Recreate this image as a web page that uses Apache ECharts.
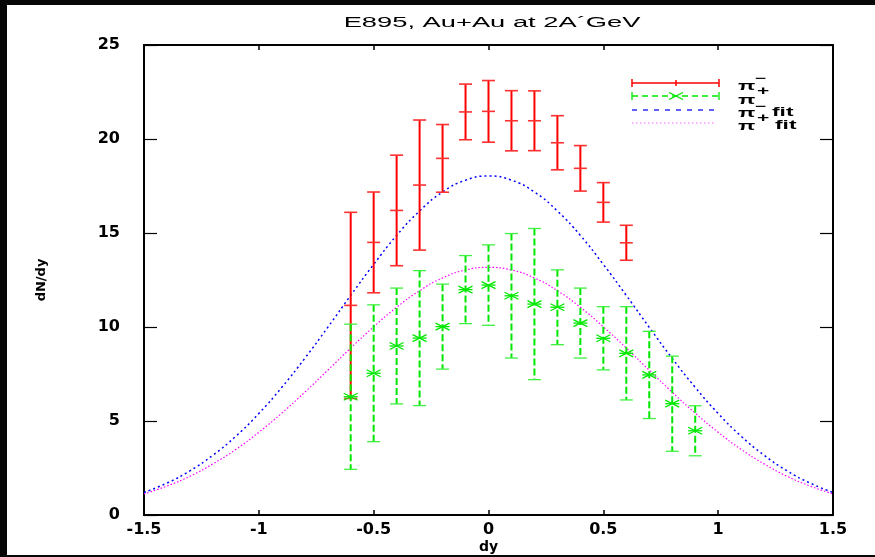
<!DOCTYPE html>
<html><head><meta charset="utf-8">
<script src="https://cdn.jsdelivr.net/npm/echarts@6/dist/echarts.min.js"></script>
<style>html,body{margin:0;padding:0;background:#fff}#c{width:875px;height:557px}</style>
</head><body><div id="c"></div>
<script>
// ---- data ----
const rapidityMinus = [-0.6, -0.5, -0.4, -0.3, -0.2, -0.1, 0, 0.1, 0.2, 0.3, 0.4, 0.5, 0.6];
const piMinus      = [11.15, 14.5, 16.2, 17.55, 18.97, 21.44, 21.47, 20.97, 20.97, 19.8, 18.44, 16.63, 14.48];
const piMinusErr   = [4.95, 2.68, 2.94, 3.46, 1.8, 1.48, 1.64, 1.6, 1.59, 1.44, 1.21, 1.05, 0.93];

const rapidityPlus = [-0.6, -0.5, -0.4, -0.3, -0.2, -0.1, 0, 0.1, 0.2, 0.3, 0.4, 0.5, 0.6, 0.7, 0.8, 0.9];
const piPlus       = [6.29, 7.54, 8.99, 9.41, 10.02, 11.99, 12.23, 11.66, 11.22, 11.05, 10.21, 9.4, 8.6, 7.45, 5.92, 4.48];
const piPlusErr    = [3.86, 3.64, 3.08, 3.59, 2.26, 1.81, 2.14, 3.31, 4.02, 1.99, 1.86, 1.68, 2.48, 2.32, 2.53, 1.33];

const fitRapidity = [-1.5, -1.4, -1.3, -1.2, -1.1, -1.0, -0.9, -0.8, -0.7, -0.6, -0.5, -0.4, -0.3, -0.2, -0.1, 0,
                     0.1, 0.2, 0.3, 0.4, 0.5, 0.6, 0.7, 0.8, 0.9, 1.0, 1.1, 1.2, 1.3, 1.4, 1.5];
const piMinusFit = [1.20, 1.70, 2.35, 3.18, 4.19, 5.40, 6.79, 8.33, 9.98, 11.68, 13.33, 14.87, 16.17, 17.18, 17.81, 18.03,
                    17.81, 17.18, 16.17, 14.87, 13.33, 11.68, 9.98, 8.33, 6.79, 5.40, 4.19, 3.18, 2.35, 1.70, 1.20];
const piPlusFit  = [1.12, 1.54, 2.06, 2.72, 3.49, 4.40, 5.42, 6.53, 7.70, 8.88, 10.01, 11.05, 11.93, 12.61, 13.03, 13.17,
                    13.03, 12.61, 11.93, 11.05, 10.01, 8.88, 7.70, 6.53, 5.42, 4.40, 3.49, 2.72, 2.06, 1.54, 1.12];

const xTicks = { min: -1.5, max: 1.5, interval: 0.5 };
const yTicks = { min: 0, max: 25, interval: 5 };

const titleText = 'E895, Au+Au at 2A\u00b4GeV';
const xName = 'dy';
const yName = 'dN/dy';

// ---- styles ----
const RED = '#ff0000', GREEN = '#00e800', BLUE = '#0000ff', MAGENTA = '#ff00ff';
const tickFont = { fontFamily: 'DejaVu Sans', fontWeight: 'bold', fontSize: 16, color: '#000' };

function errBarItem(kind) {
  return function (params, api) {
    const x = api.value(0), y = api.value(1), e = api.value(2);
    const c = api.coord([x, y]);
    const t = api.coord([x, y + e]);
    const b = api.coord([x, y - e]);
    const hw = 6.5;
    const kids = [];
    if (kind === 'red') {
      const cap = { stroke: '#ff3030', lineWidth: 1.6 };
      kids.push({ type: 'line', shape: { x1: c[0], y1: t[1], x2: c[0], y2: b[1] }, style: { stroke: RED, lineWidth: 2 } });
      kids.push({ type: 'line', shape: { x1: c[0] - hw, y1: t[1], x2: c[0] + hw, y2: t[1] }, style: cap });
      kids.push({ type: 'line', shape: { x1: c[0] - hw, y1: b[1], x2: c[0] + hw, y2: b[1] }, style: cap });
      kids.push({ type: 'line', shape: { x1: c[0] - hw, y1: c[1], x2: c[0] + hw, y2: c[1] }, style: cap });
    } else {
      const cap = { stroke: '#40f040', lineWidth: 1.3 };
      kids.push({ type: 'line', shape: { x1: c[0], y1: t[1], x2: c[0], y2: b[1] }, style: { stroke: GREEN, lineWidth: 2, lineDash: [7, 3] } });
      kids.push({ type: 'line', shape: { x1: c[0] - hw, y1: t[1], x2: c[0] + hw, y2: t[1] }, style: cap });
      kids.push({ type: 'line', shape: { x1: c[0] - hw, y1: b[1], x2: c[0] + hw, y2: b[1] }, style: cap });
      const mw = 7, mh = 3.5, ms = { stroke: GREEN, lineWidth: 1.3 };
      kids.push({ type: 'line', shape: { x1: c[0] - mw, y1: c[1] - mh, x2: c[0] + mw, y2: c[1] + mh }, style: ms });
      kids.push({ type: 'line', shape: { x1: c[0] - mw, y1: c[1] + mh, x2: c[0] + mw, y2: c[1] - mh }, style: ms });
      kids.push({ type: 'line', shape: { x1: c[0] - mw, y1: c[1], x2: c[0] + mw, y2: c[1] }, style: ms });
    }
    return { type: 'group', children: kids };
  };
}

// ---- legend (drawn as graphics) ----
const LX1 = 632, LX2 = 719, LM = 676;
function txt(x, y, s, size, weight, align) {
  return { type: 'text', x: x, y: y, scaleX: 1.75, z: 100,
    style: { text: s, fontFamily: 'Liberation Sans', fontWeight: weight || 'bold', fontSize: size,
             fill: '#000', align: align || 'left', verticalAlign: 'middle' } };
}
function ln(x1, y1, x2, y2, style) {
  return { type: 'line', z: 100, shape: { x1, y1, x2, y2 }, style };
}
const legendGraphics = [
  ln(LX1, 83, LX2, 83, { stroke: RED, lineWidth: 1.5 }),
  ln(LX1, 79, LX1, 87, { stroke: RED, lineWidth: 1.5 }),
  ln(LX2, 79, LX2, 87, { stroke: RED, lineWidth: 1.5 }),
  ln(LM, 80, LM, 86, { stroke: RED, lineWidth: 1.5 }),
  ln(LX1, 96, LX2, 96, { stroke: GREEN, lineWidth: 1.3, lineDash: [6, 4] }),
  ln(LX1, 92, LX1, 100, { stroke: GREEN, lineWidth: 1.3 }),
  ln(LX2, 92, LX2, 100, { stroke: GREEN, lineWidth: 1.3 }),
  ln(LM - 7, 92.5, LM + 7, 99.5, { stroke: GREEN, lineWidth: 1.3 }),
  ln(LM - 7, 99.5, LM + 7, 92.5, { stroke: GREEN, lineWidth: 1.3 }),
  ln(LX1, 110, 714, 110, { stroke: '#6060ff', lineWidth: 2, lineDash: [5, 6] }),
  ln(LX1, 123, 714, 123, { stroke: '#ff60ff', lineWidth: 1.2, lineDash: [1.5, 2.5] }),
  txt(738, 86, '\u03c0', 13), txt(755, 79, '\u2212', 11),
  txt(738, 100, '\u03c0', 13), txt(757, 92, '+', 12),
  txt(738, 113, '\u03c0', 13), txt(755, 107, '\u2212', 11), txt(772, 112, 'fit', 13),
  txt(738, 126, '\u03c0', 13), txt(757, 119, '+', 12), txt(775, 125, 'fit', 13)
];

const frameGraphics = [
  { type: 'rect', z: 200, shape: { x: 0, y: 0, width: 7, height: 557 }, style: { fill: '#070707' } },
  { type: 'rect', z: 200, shape: { x: 0, y: 0, width: 875, height: 5 }, style: { fill: '#070707' } },
  { type: 'rect', z: 200, shape: { x: 0, y: 555, width: 875, height: 2 }, style: { fill: '#070707' } }
];

const titleGraphic = { type: 'text', x: 492, y: 23, scaleX: 1.95, z: 100,
  style: { text: titleText, fontFamily: 'Liberation Sans', fontSize: 14, fill: '#000', align: 'center', verticalAlign: 'middle' } };

const chart = echarts.init(document.getElementById('c'), null, { renderer: 'canvas' });
const axisLine = { show: true, onZero: false, lineStyle: { color: '#000', width: 2 } };
chart.setOption({
  backgroundColor: '#fff',
  animation: false,
  grid: { left: 144, right: 42, top: 45, bottom: 42, containLabel: false, outerBoundsMode: 'none' },
  xAxis: [
    { type: 'value', position: 'bottom', min: xTicks.min, max: xTicks.max, interval: xTicks.interval,
      axisLine, splitLine: { show: false },
      axisTick: { inside: true, length: 5, lineStyle: { color: '#000', width: 1.5 } },
      axisLabel: Object.assign({ margin: 7 }, tickFont),
      name: xName, nameLocation: 'middle', nameGap: 25, nameMoveOverlap: false,
      nameTextStyle: { fontFamily: 'DejaVu Sans', fontWeight: 'bold', fontSize: 14, color: '#000', verticalAlign: 'top' } },
    { type: 'value', position: 'top', min: xTicks.min, max: xTicks.max, interval: xTicks.interval,
      axisLine, splitLine: { show: false },
      axisTick: { inside: true, length: 5, lineStyle: { color: '#000', width: 1.5 } },
      axisLabel: { show: false } }
  ],
  yAxis: [
    { type: 'value', position: 'left', min: yTicks.min, max: yTicks.max, interval: yTicks.interval,
      axisLine, splitLine: { show: false },
      axisTick: { inside: true, length: 13, lineStyle: { color: '#000', width: 1.2 } },
      axisLabel: Object.assign({ margin: 24 }, tickFont),
      name: yName, nameLocation: 'middle', nameGap: 96, nameRotate: 90, nameMoveOverlap: false,
      nameTextStyle: { fontFamily: 'DejaVu Sans', fontWeight: 'bold', fontSize: 13, color: '#000' } },
    { type: 'value', position: 'right', min: yTicks.min, max: yTicks.max, interval: yTicks.interval,
      axisLine, splitLine: { show: false },
      axisTick: { inside: true, length: 13, lineStyle: { color: '#000', width: 1.2 } },
      axisLabel: { show: false } }
  ],
  series: [
    { name: '\u03c0- fit', type: 'line', xAxisIndex: 0, yAxisIndex: 0, showSymbol: false, smooth: true,
      data: fitRapidity.map((x, i) => [x, piMinusFit[i]]),
      lineStyle: { color: BLUE, width: 1.5, type: [2, 3] }, z: 2 },
    { name: '\u03c0+ fit', type: 'line', xAxisIndex: 0, yAxisIndex: 0, showSymbol: false, smooth: true,
      data: fitRapidity.map((x, i) => [x, piPlusFit[i]]),
      lineStyle: { color: MAGENTA, width: 1.2, type: [1.5, 2] }, z: 2 },
    { name: '\u03c0-', type: 'custom', xAxisIndex: 0, yAxisIndex: 0, renderItem: errBarItem('red'),
      data: rapidityMinus.map((x, i) => [x, piMinus[i], piMinusErr[i]]), z: 3 },
    { name: '\u03c0+', type: 'custom', xAxisIndex: 0, yAxisIndex: 0, renderItem: errBarItem('green'),
      data: rapidityPlus.map((x, i) => [x, piPlus[i], piPlusErr[i]]), z: 4 }
  ],
  graphic: [titleGraphic].concat(legendGraphics, frameGraphics)
});
</script></body></html>
